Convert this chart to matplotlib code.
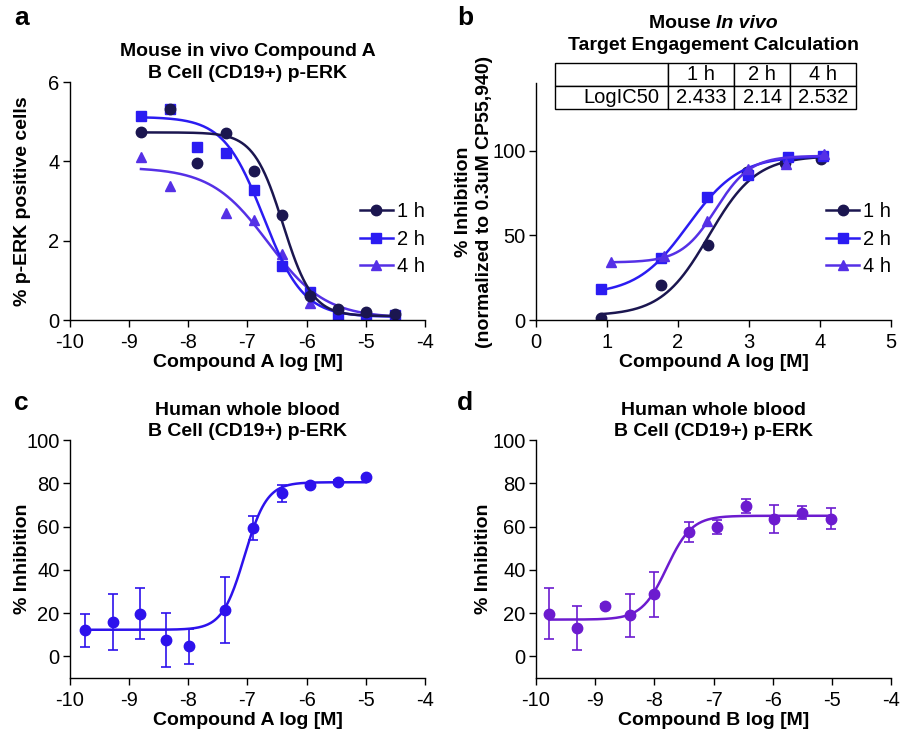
import matplotlib
matplotlib.use('Agg')
import matplotlib.pyplot as plt
import numpy as np

plt.rcParams['font.family'] = ['Liberation Sans', 'DejaVu Sans']
plt.rcParams['axes.unicode_minus'] = False

# ---- panel a: mouse in vivo, % p-ERK positive cells ----
a_x = [-8.80, -8.31, -7.85, -7.37, -6.89, -6.42, -5.94, -5.47, -5.00, -4.50]
a_1h = [4.74, 5.31, 3.97, 4.72, 3.76, 2.64, 0.60, 0.28, 0.21, 0.16]
a_2h = [5.14, 5.31, 4.35, 4.22, 3.28, 1.37, 0.71, 0.13, 0.07, 0.13]
a_4h_x = [-8.80, -8.31, -7.37, -6.89, -6.42, -5.94, -5.47, -5.00, -4.50]
a_4h = [4.12, 3.38, 2.69, 2.52, 1.66, 0.44, 0.15, 0.01, 0.11]
# 4PL fit (bottom, top, logIC50, hill)
a_fit = {'1 h': (0.10, 4.73, -6.40, 1.75),
         '2 h': (0.08, 5.12, -6.73, 1.29),
         '4 h': (0.05, 3.85, -6.65, 0.90)}

# ---- panel b: target engagement ----
b_x_1h = [0.91, 1.76, 2.42, 2.97, 3.51, 4.02]
b_1h = [1.0, 20.9, 44.2, 87.3, 92.8, 94.9]
b_x_2h = [0.91, 1.76, 2.41, 2.99, 3.55, 4.04]
b_2h = [18.1, 36.6, 72.7, 85.4, 96.1, 96.7]
b_x_4h = [1.06, 1.80, 2.41, 2.99, 3.52, 4.05]
b_4h = [34.1, 37.6, 58.7, 89.3, 92.2, 98.0]
b_fit = {'1 h': (2.5, 97.0, 2.433, 1.30),
         '2 h': (15.0, 97.0, 2.14, 1.20),
         '4 h': (34.0, 97.0, 2.532, 1.78)}
table_cols = ['', '1 h', '2 h', '4 h']
table_row = ['LogIC50', '2.433', '2.14', '2.532']

# ---- panel c: human whole blood, compound A ----
c_x = [-9.75, -9.27, -8.81, -8.38, -7.98, -7.38, -6.90, -6.42, -5.94, -5.47, -5.00]
c_y = [12.0, 15.9, 19.8, 7.4, 4.6, 21.6, 59.3, 75.3, 79.2, 80.6, 83.0]
c_err = [7.6, 13.0, 12.0, 12.5, 8.2, 15.3, 5.5, 4.0, 0.8, 0.8, 0.5]
c_fit = (12.3, 80.5, -7.05, 2.3)

# ---- panel d: human whole blood, compound B ----
d_x = [-9.78, -9.31, -8.84, -8.41, -8.01, -7.42, -6.94, -6.45, -5.98, -5.50, -5.01]
d_y = [19.8, 13.1, 23.5, 19.0, 28.7, 57.6, 59.9, 69.6, 63.7, 66.4, 63.7]
d_err = [11.6, 10.2, 0.5, 10.0, 10.4, 4.7, 3.3, 3.1, 6.5, 3.1, 4.9]
d_fit = (17.0, 65.0, -7.79, 2.05)

col_1h = '#1b1650'
col_2h = '#2b1cf2'
col_4h = '#5530e6'
col_c = '#2d12ec'
col_d = '#6c1bcf'


def fourpl_up(x, bottom, top, logic50, hill):
    return bottom + (top - bottom) / (1 + 10 ** ((logic50 - x) * hill))


def fourpl_down(x, bottom, top, logic50, hill):
    return bottom + (top - bottom) / (1 + 10 ** ((x - logic50) * hill))


def style_axes(ax, ylab_x):
    for s in ['top', 'right']:
        ax.spines[s].set_visible(False)
    for s in ['left', 'bottom']:
        ax.spines[s].set_linewidth(1.0)
    ax.tick_params(direction='out', length=5, width=1.0, labelsize=14.5)
    ax.tick_params(axis='x', pad=4)
    ax.tick_params(axis='y', pad=2.5)
    ax.yaxis.set_label_coords(ylab_x, 0.5)


fig = plt.figure(figsize=(9.05, 7.31), dpi=100)
ax_a = fig.add_axes([0.0773, 0.5622, 0.3923, 0.3256])
ax_b = fig.add_axes([0.5923, 0.5622, 0.3923, 0.3242])
ax_c = fig.add_axes([0.0773, 0.0725, 0.3923, 0.3255])
ax_d = fig.add_axes([0.5923, 0.0725, 0.3923, 0.3255])

lab_font = dict(fontsize=14, fontweight='bold')
title_font = dict(fontsize=14, fontweight='bold')
leg_kw = dict(frameon=False, loc='center right', bbox_to_anchor=(1.05, 0.34),
              fontsize=14.5, handlelength=1.6, handletextpad=0.2, labelspacing=0.42)

# 面板 a
ms = 7.5
series_a = [('4 h', a_4h_x, a_4h, col_4h, '^'),
            ('2 h', a_x, a_2h, col_2h, 's'),
            ('1 h', a_x, a_1h, col_1h, 'o')]
handles = {}
for name, xs, ys, col, mk in series_a:
    xx = np.linspace(min(xs), max(xs), 200)
    ax_a.plot(xx, fourpl_down(xx, *a_fit[name]), color=col, lw=1.8)
    ax_a.plot(xs, ys, ls='none', marker=mk, ms=ms, color=col)
    handles[name] = ax_a.plot([], [], color=col, marker=mk, ms=ms, lw=1.8)[0]
ax_a.legend([handles[k] for k in ['1 h', '2 h', '4 h']], ['1 h', '2 h', '4 h'], **leg_kw)
ax_a.set_xlim(-10, -4)
ax_a.set_ylim(0, 6)
ax_a.set_xticks(range(-10, -3))
ax_a.set_yticks([0, 2, 4, 6])
ax_a.set_xlabel('Compound A log [M]', labelpad=2, **lab_font)
ax_a.set_ylabel('% p-ERK positive cells', va='center', **lab_font)
ax_a.set_title('Mouse in vivo Compound A\nB Cell (CD19+) p-ERK', pad=2,
               linespacing=1.35, **title_font)
style_axes(ax_a, -0.135)

# 面板 b
series_b = [('1 h', b_x_1h, b_1h, col_1h, 'o'),
            ('2 h', b_x_2h, b_2h, col_2h, 's'),
            ('4 h', b_x_4h, b_4h, col_4h, '^')]
hb = []
for name, xs, ys, col, mk in series_b:
    xx = np.linspace(min(xs), max(xs), 200)
    ax_b.plot(xx, fourpl_up(xx, *b_fit[name]), color=col, lw=1.8)
    ax_b.plot(xs, ys, ls='none', marker=mk, ms=ms, color=col)
    hb.append(ax_b.plot([], [], color=col, marker=mk, ms=ms, lw=1.8)[0])
ax_b.legend(hb, ['1 h', '2 h', '4 h'], **leg_kw)
ax_b.set_xlim(0, 5)
ax_b.set_ylim(0, 140)
ax_b.set_xticks(range(0, 6))
ax_b.set_yticks([0, 50, 100])
ax_b.set_xlabel('Compound A log [M]', labelpad=2, **lab_font)
ax_b.set_ylabel('% Inhibition\n(normalized to 0.3uM CP55,940)', va='center',
                linespacing=1.25, **lab_font)
style_axes(ax_b, -0.175)

tbl = ax_b.table(cellText=[table_cols, table_row], bbox=[0.0535, 0.89, 0.848, 0.194],
                 cellLoc='center', colWidths=[113, 66, 56, 66])
tbl.auto_set_font_size(False)
for (r, c), cell in tbl.get_celld().items():
    cell.set_linewidth(1.0)
    cell.get_text().set_fontsize(14.5)
    if c == 0:
        cell.get_text().set_horizontalalignment('right')
        cell.PAD = 0.08
tbl.set_clip_on(False)

# b 标题: "Mouse In vivo" (In vivo 斜体)
renderer = fig.canvas.get_renderer()
cx = 0.5923 + 0.3923 / 2
t1 = fig.text(0, 0, 'Mouse ', fontsize=14, fontweight='bold')
t2 = fig.text(0, 0, 'In vivo', fontsize=14, fontweight='bold', style='italic')
w1 = t1.get_window_extent(renderer).width / fig.bbox.width
w2 = t2.get_window_extent(renderer).width / fig.bbox.width
x0 = cx - (w1 + w2) / 2
ty = 1 - 23 / 731
t1.set_position((x0, ty))
t1.set_va('center')
t2.set_position((x0 + w1, ty))
t2.set_va('center')
fig.text(cx, 1 - 45 / 731, 'Target Engagement Calculation', ha='center', va='center',
         fontsize=14, fontweight='bold')

# 面板 c, d
for ax, xs, ys, err, fit, col, comp, ylx in [
        (ax_c, c_x, c_y, c_err, c_fit, col_c, 'A', -0.135),
        (ax_d, d_x, d_y, d_err, d_fit, col_d, 'B', -0.149)]:
    xx = np.linspace(min(xs), max(xs), 300)
    ax.plot(xx, fourpl_up(xx, *fit), color=col, lw=1.8)
    ax.errorbar(xs, ys, yerr=err, fmt='o', ms=7.5, color=col, ecolor=col,
                elinewidth=1.2, capsize=3.5, capthick=1.2)
    ax.set_xlim(-10, -4)
    ax.set_ylim(-10, 100)
    ax.set_xticks(range(-10, -3))
    ax.set_yticks(range(0, 101, 20))
    ax.set_xlabel('Compound %s log [M]' % comp, labelpad=2, **lab_font)
    ax.set_ylabel('% Inhibition', va='center', **lab_font)
    ax.set_title('Human whole blood\nB Cell (CD19+) p-ERK', pad=2,
                 linespacing=1.3, **title_font)
    style_axes(ax, ylx)

# 面板字母
for lbl, x, y in [('a', 14, 18), ('b', 457, 18), ('c', 14, 403), ('d', 457, 403)]:
    fig.text(x / 905, 1 - y / 731, lbl, fontsize=19, fontweight='bold',
             ha='left', va='center')

fig.savefig('out.png', dpi=100)
